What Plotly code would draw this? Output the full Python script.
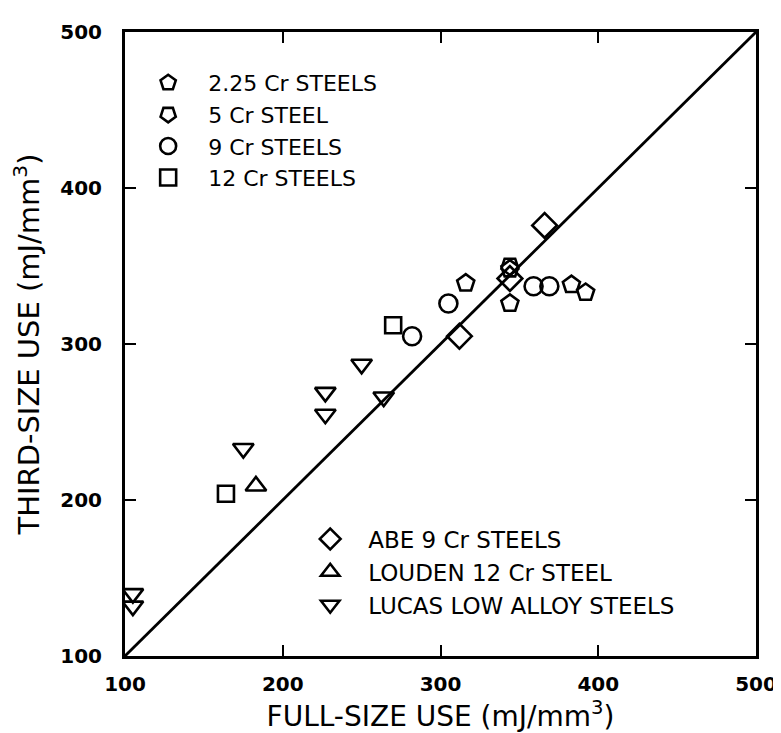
import plotly.graph_objects as go

# ---- data ----
cr225_x = [316, 344, 344, 383, 392]
cr225_y = [339, 348, 326, 338, 333]
cr5_x = [344]
cr5_y = [350]
cr9_x = [282, 305, 359, 369]
cr9_y = [305, 326, 337, 337]
cr12_x = [164, 270]
cr12_y = [204, 312]
abe_x = [312, 344, 366]
abe_y = [305, 342, 376]
louden_x = [183]
louden_y = [209]
lucas_x = [105, 105, 175, 227, 227, 250, 264]
lucas_y = [140, 132, 233, 269, 255, 287, 266]
line_x = [100, 500]
line_y = [100, 500]
ticks = [100, 200, 300, 400, 500]

FONT = "DejaVu Sans"
LW = 2.6

def mk(symbol, size, angle=0):
    return dict(symbol=symbol, size=size, color="black", angle=angle,
                line=dict(color="black", width=LW))

fig = go.Figure()
fig.add_trace(go.Scatter(x=line_x, y=line_y, mode="lines",
                         line=dict(color="black", width=2.8), showlegend=False,
                         hoverinfo="skip"))
fig.add_trace(go.Scatter(x=cr225_x, y=cr225_y, mode="markers", name="2.25 Cr STEELS",
                         marker=mk("pentagon-open", 18), legend="legend"))
fig.add_trace(go.Scatter(x=cr5_x, y=cr5_y, mode="markers", name="5 Cr STEEL",
                         marker=mk("pentagon-open", 18, angle=180), legend="legend"))
fig.add_trace(go.Scatter(x=cr9_x, y=cr9_y, mode="markers", name="9 Cr STEELS",
                         marker=mk("circle-open", 18), legend="legend"))
fig.add_trace(go.Scatter(x=cr12_x, y=cr12_y, mode="markers", name="12 Cr STEELS",
                         marker=mk("square-open", 16), legend="legend"))
fig.add_trace(go.Scatter(x=abe_x, y=abe_y, mode="markers", name="ABE 9 Cr STEELS",
                         marker=mk("diamond-open", 19), legend="legend2"))
fig.add_trace(go.Scatter(x=louden_x, y=louden_y, mode="markers", name="LOUDEN 12 Cr STEEL",
                         marker=mk("triangle-up-open", 18), legend="legend2"))
fig.add_trace(go.Scatter(x=lucas_x, y=lucas_y, mode="markers", name="LUCAS LOW ALLOY STEELS",
                         marker=mk("triangle-down-open", 18), legend="legend2"))

axis_common = dict(range=[100, 500], tickvals=ticks, ticks="inside", ticklen=11,
                   tickwidth=2.2, tickcolor="black", showline=True, linecolor="black",
                   linewidth=3, mirror="ticks", showgrid=False, zeroline=False,
                   tickfont=dict(family=FONT, size=20, color="black", weight="bold"))

fig.update_layout(
    width=781, height=733,
    margin=dict(l=117, r=28, t=20, b=85),
    plot_bgcolor="white", paper_bgcolor="white",
    font=dict(family=FONT, color="black"),
    xaxis=dict(**axis_common, ticklabelstandoff=8,
               title=dict(text="FULL-SIZE USE (mJ/mm<sup>3</sup>)",
                          font=dict(family=FONT, size=28, color="black"), standoff=2)),
    yaxis=dict(**axis_common, ticklabelstandoff=16,
               title=dict(text="THIRD-SIZE USE (mJ/mm<sup>3</sup>)",
                          font=dict(family=FONT, size=29, color="black"), standoff=14)),
    legend=dict(x=0.005, y=0.952, xanchor="left", yanchor="top",
                bgcolor="rgba(0,0,0,0)", font=dict(family=FONT, size=22, color="black"),
                itemsizing="trace", itemwidth=70),
    legend2=dict(x=0.265, y=0.222, xanchor="left", yanchor="top",
                 bgcolor="rgba(0,0,0,0)", font=dict(family=FONT, size=23, color="black"),
                 itemsizing="trace", itemwidth=66),
)

fig.write_html("out.html")
